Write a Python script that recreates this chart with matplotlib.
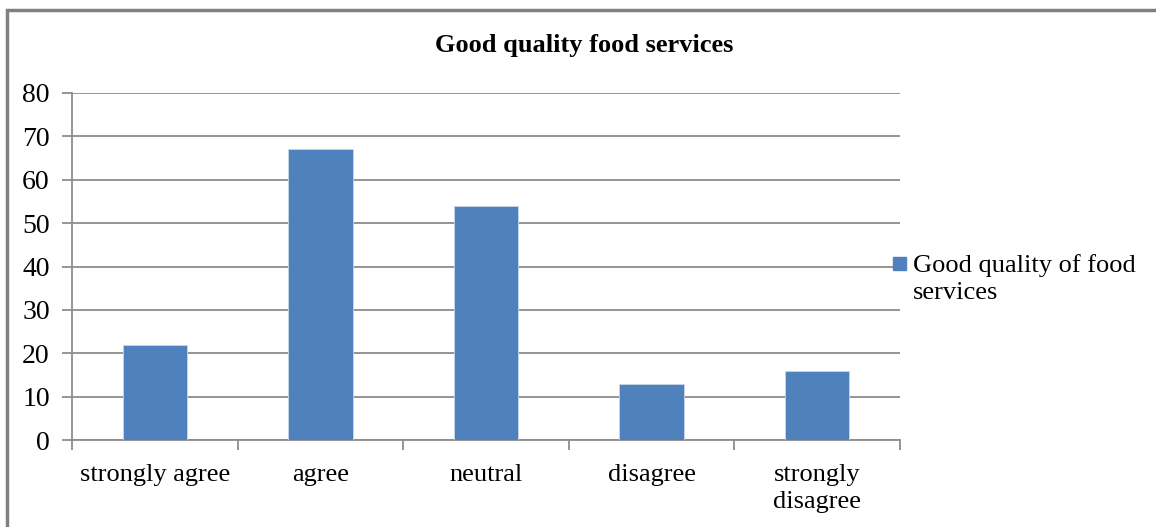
import matplotlib
matplotlib.use("Agg")
import matplotlib.pyplot as plt
import matplotlib.patches as patches
import numpy as np

categories = ["strongly agree", "agree", "neutral", "disagree", "strongly\ndisagree"]
values = [22, 67, 54, 13, 16]
series_name = "Good quality of food services"
title = "Good quality food services"

plt.rcParams['font.family'] = ['Liberation Serif', 'DejaVu Serif']

fig = plt.figure(figsize=(11.56, 5.27), dpi=100)
W, H = 1156, 527
ax = fig.add_axes([72 / W, 1 - 440 / H, (900 - 72) / W, (440 - 93) / H])

grid_c = "#8c8c8c"
x = np.arange(len(categories))
ax.bar(x, values, width=0.39, color="#4F81BD", edgecolor="#c9d7ea", linewidth=0.6, zorder=3)

ax.set_xlim(-0.5, len(categories) - 0.5)
ax.set_ylim(0, 80)
ax.set_yticks(range(0, 81, 10))
ax.tick_params(axis='y', labelsize=20, length=7, width=1.3, color=grid_c, pad=9)
ax.set_xticks(x)
ax.set_xticklabels(categories, fontsize=19, linespacing=1.3)
ax.set_xticks(np.arange(-0.5, len(categories)), minor=True)
ax.tick_params(axis='x', which='major', length=0, pad=17)
ax.tick_params(axis='x', which='minor', length=7, width=1.3, color=grid_c)
ax.grid(axis='y', color=grid_c, linewidth=1.3, zorder=0)
for s in ["top", "right"]:
    ax.spines[s].set_visible(False)
for s in ["left", "bottom"]:
    ax.spines[s].set_color(grid_c)
    ax.spines[s].set_linewidth(1.3)

fig.text(584 / W, 1 - 45 / H, title, ha='center', va='center', fontsize=19, fontweight='bold')

# legend
fig.patches.append(patches.Rectangle((893 / W, 1 - 270 / H), 13 / W, 13 / H,
                                     transform=fig.transFigure, color="#4F81BD"))
fig.text(913 / W, 1 - 279 / H, series_name.replace("food ", "food\n"), ha='left', va='center',
         fontsize=19, linespacing=1.3)

# outer frame (left and top visible)
fig.patches.append(patches.Rectangle((7 / W, -0.1), 1.2, 1 - 10 / H + 0.1, transform=fig.transFigure,
                                     fill=False, edgecolor="#808080", linewidth=2.5))

fig.savefig("out.png", dpi=100)
